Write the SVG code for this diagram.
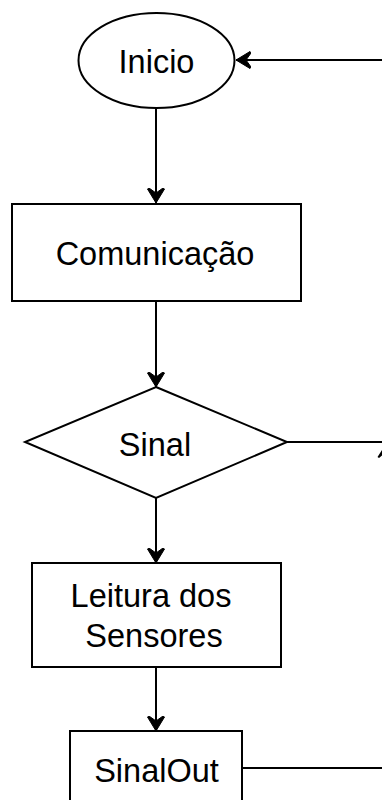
<svg xmlns="http://www.w3.org/2000/svg" width="382" height="800" viewBox="0 0 382 800">
  <style>
    .shape { fill: #ffffff; stroke: #000000; stroke-width: 2; }
    .lbl { font-family: "Liberation Sans", Arial, sans-serif; font-size: 32.5px; fill: #000000; text-anchor: middle; }
    .conn { fill: none; stroke: #000000; stroke-width: 2; }
    .head { fill: #000000; stroke: none; }
  </style>
  <defs>
    <marker id="arr" markerWidth="16" markerHeight="20" refX="15" refY="10" orient="auto" markerUnits="userSpaceOnUse" viewBox="0 0 16 20">
      <path d="M15,10 L1,1.5 L0,3 L5,10 L0,17 L1,18.5 Z" fill="#000000" stroke="#000000" stroke-width="1" stroke-linejoin="round"/>
    </marker>
  </defs>

  <g id="connectors">
    <line class="conn" x1="156" y1="108" x2="156" y2="203" marker-end="url(#arr)"/>
    <line class="conn" x1="156" y1="301" x2="156" y2="387" marker-end="url(#arr)"/>
    <line class="conn" x1="156" y1="498" x2="156" y2="563" marker-end="url(#arr)"/>
    <line class="conn" x1="156" y1="667" x2="156" y2="731" marker-end="url(#arr)"/>
    <line class="conn" x1="384" y1="60" x2="236" y2="60" marker-end="url(#arr)"/>
    <line class="conn" x1="287" y1="442" x2="384" y2="442"/>
    <line class="conn" x1="242" y1="768" x2="384" y2="768"/>
    <path class="head" d="M386,444 L377.5,457 L379,458 L386,452 L393,458 L394.5,457 Z"/>
  </g>

  <g id="inicio">
    <ellipse class="shape" cx="156.5" cy="60.5" rx="78" ry="47.5"/>
    <text class="lbl" x="156.5" y="72.5">Inicio</text>
  </g>

  <g id="comunicacao">
    <rect class="shape" x="12" y="204" width="289" height="97"/>
    <text class="lbl" x="155" y="265">Comunicação</text>
  </g>

  <g id="sinal">
    <polygon class="shape" points="156,387 287,442 156,498 25,442"/>
    <text class="lbl" x="155" y="455.5">Sinal</text>
  </g>

  <g id="leitura">
    <rect class="shape" x="32" y="563" width="249" height="104"/>
    <text class="lbl" x="151" y="606.5">Leitura dos</text>
    <text class="lbl" x="154" y="646.5">Sensores</text>
  </g>

  <g id="sinalout">
    <rect class="shape" x="70" y="731" width="172" height="80"/>
    <text class="lbl" x="156.5" y="781.5">SinalOut</text>
  </g>
</svg>
